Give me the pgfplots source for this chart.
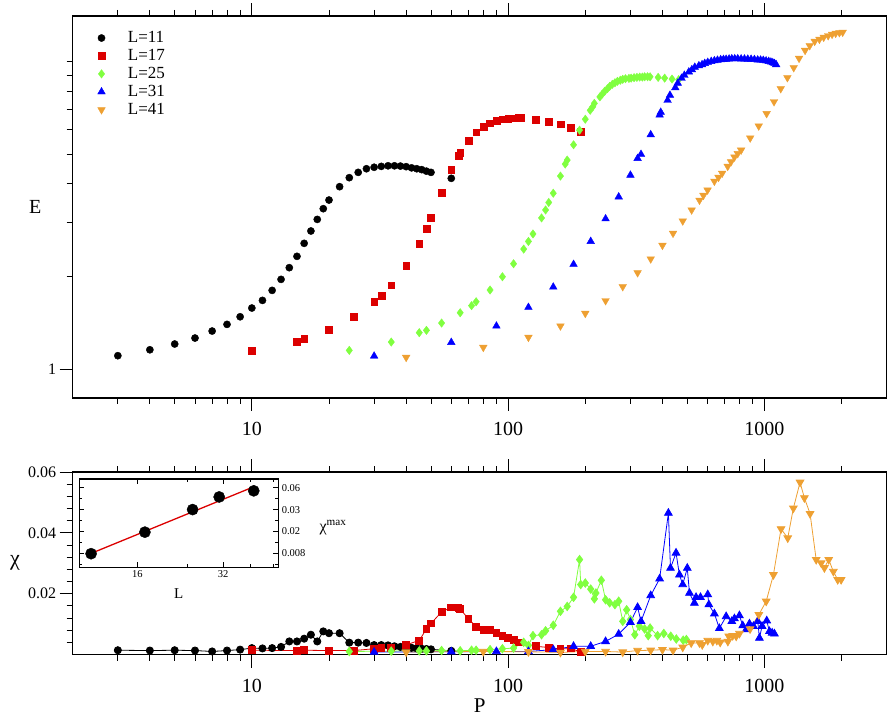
\documentclass[border=0pt]{standalone}
\usepackage{fontspec}
\setmainfont{Liberation Serif}
\usepackage{pgfplots}
\pgfplotsset{compat=1.18}

\definecolor{cred}{RGB}{220,0,0}
\definecolor{cgreen}{RGB}{128,255,64}
\definecolor{cblue}{RGB}{0,0,255}
\definecolor{corange}{RGB}{238,160,50}

\pgfplotsset{
  s11/.style={black, mark=*, mark size=3.6pt},
  s17/.style={cred, mark=square*, mark size=3.4pt},
  s25/.style={cgreen, mark=diamond*, mark size=4.2pt},
  s31/.style={cblue, mark=triangle*, mark size=4.4pt},
  s41/.style={corange, mark=triangle*, mark size=4.4pt, mark options={rotate=180}},
  % legend image: one mark, with room to the text as in the reference
  limg/.style={legend image code/.code={%
    \draw[#1] plot coordinates {(0.55cm,0cm)}; \path (0cm,0cm) (1.4cm,0cm);}},
}

\begin{document}
\begin{tikzpicture}[x=1pt,y=1pt]
\useasboundingbox (0,0) rectangle (888,715);

% ---- upper panel: E versus P
\begin{axis}[
  scale only axis, width=814pt, height=382pt,
  at={(72.7pt,317pt)}, anchor=south west,
  xmode=log, xmin=2, xmax=3000,
  ymode=log, ymin=0.805, ymax=14.06,
  axis line style={line width=1.4pt},
  every tick/.style={black, line width=0.9pt},
  tick align=outside,
  major tick length=13pt, minor tick length=6pt,
  xtick={10,100,1000}, xticklabels={10,100,1000},
  minor xtick={3,4,5,6,7,8,9,20,30,40,50,60,70,80,90,200,300,400,500,600,700,800,900,2000},
  xtick pos=both, xticklabel pos=lower, ytick pos=left,
  xticklabel style={font=\fontsize{20}{24}\selectfont, yshift=-8pt},
  yticklabel style={font=\fontsize{16}{19}\selectfont},
  ytick={1}, yticklabels={1},
  minor ytick={2,3,4,5,6,7,8,9,10},
  ylabel={E},
  every axis y label/.style={at={(axis description cs:-0.046,0.5)}, anchor=center,
    font=\fontsize{20}{24}\selectfont},
  legend style={draw=none, fill=none, at={(axis description cs:0.012,0.97)},
    anchor=north west, font=\fontsize{17}{19}\selectfont, row sep=1.2pt},
  legend cell align=left,
]
\addplot[s11, only marks, limg] coordinates {
 (3,1.105) (4,1.155) (5,1.206) (6,1.261) (7,1.329) (8,1.397) (9,1.479) (10,1.579)
 (11,1.672) (12,1.802) (13,1.957) (14,2.136) (15,2.325) (16,2.563) (17,2.811)
 (18,3.066) (19,3.322) (20,3.544) (22,3.917) (24,4.19) (26,4.36) (28,4.48)
 (30,4.53) (32,4.56) (34,4.58) (36,4.58) (38,4.57) (40,4.55) (42,4.51) (44,4.48)
 (46,4.45) (48,4.40) (50,4.36) (60,4.17)};
\addlegendentry{L=11}
\addplot[s17, only marks, limg] coordinates {
 (10,1.147) (15,1.227) (16,1.252) (20,1.346) (25,1.479) (30,1.651) (32,1.732)
 (35,1.872) (40,2.163) (45,2.556) (48,2.852) (50,3.097) (55,3.745) (60,4.45)
 (64,4.94) (65,5.05) (70,5.54) (75,5.89) (80,6.12) (85,6.30) (90,6.42) (95,6.49)
 (100,6.52) (105,6.54) (110,6.55) (112,6.55) (128,6.47) (144,6.37) (160,6.25)
 (176,6.11) (192,5.93)};
\addlegendentry{L=17}
\addplot[s25, only marks, limg] coordinates {
 (24,1.150) (35,1.224) (45,1.313) (48,1.336) (55,1.411) (65,1.524) (72,1.607)
 (75,1.655) (85,1.807) (95,1.996) (105,2.20) (115,2.455) (120,2.60) (125,2.75)
 (135,3.10) (140,3.29) (144,3.48) (150,3.73) (160,4.24) (167,4.64) (170,4.78)
 (180,5.36) (190,5.98) (200,6.49) (209,6.94) (214,7.13) (217,7.31) (228,7.67)
 (233,7.84) (238,8.00) (244,8.16) (249,8.30) (255,8.43) (261,8.53) (267,8.62)
 (274,8.69) (280,8.75) (287,8.79) (296,8.81) (302,8.83) (310,8.86) (318,8.88)
 (326,8.90) (334,8.90) (341,8.92) (350,8.92) (358,8.92) (385,8.88) (408,8.83)
 (436,8.77) (463,8.73)};
\addlegendentry{L=25}
\addplot[s31, only marks, limg] coordinates {
 (30,1.102) (60,1.221) (90,1.38) (120,1.587) (150,1.848) (180,2.19) (210,2.60)
 (240,3.08) (270,3.63) (300,4.27) (320,4.84) (330,4.99) (360,5.78) (390,6.70)
 (394,6.84) (419,7.48) (428,7.77) (449,8.22) (459,8.50) (475,8.82) (487,9.02)
 (507,9.25) (521,9.41) (535,9.58) (555,9.69) (571,9.77) (585,9.86) (601,9.94)
 (620,10.01) (638,10.06) (656,10.10) (675,10.14) (692,10.16) (709,10.17)
 (728,10.19) (746,10.21) (766,10.21) (787,10.21) (811,10.20) (836,10.19)
 (861,10.18) (887,10.17) (914,10.15) (941,10.12) (966,10.11) (990,10.09)
 (1015,10.05) (1039,10.01) (1060,9.96) (1078,9.91) (1095,9.85) (1111,9.77)};
\addlegendentry{L=31}
\addplot[s41, only marks, limg] coordinates {
 (40,1.091) (80,1.176) (120,1.268) (160,1.38) (200,1.517) (240,1.668) (280,1.853)
 (320,2.056) (360,2.28) (400,2.525) (440,2.763) (480,3.03) (520,3.29) (558,3.54)
 (578,3.67) (600,3.82) (638,4.08) (662,4.20) (684,4.33) (719,4.56) (741,4.72)
 (764,4.89) (787,5.02) (811,5.15) (880,5.64) (950,6.17) (1020,6.77) (1090,7.40)
 (1158,8.16) (1229,8.86) (1301,9.55) (1365,10.24) (1441,10.87) (1502,11.26)
 (1571,11.63) (1639,11.81) (1703,11.99) (1773,12.13) (1837,12.26) (1897,12.35)
 (1961,12.41) (2020,12.45)};
\addlegendentry{L=41}
\end{axis}

% ---- lower panel: chi versus P
\begin{axis}[
  scale only axis, width=814pt, height=182.5pt,
  at={(72.7pt,60.5pt)}, anchor=south west,
  xmode=log, xmin=2, xmax=3000,
  ymin=0, ymax=0.06, scaled y ticks=false,
  axis line style={line width=1.4pt},
  every tick/.style={black, line width=0.9pt},
  tick align=outside,
  major tick length=13pt, minor tick length=6pt,
  xtick={10,100,1000}, xticklabels={10,100,1000},
  minor xtick={3,4,5,6,7,8,9,20,30,40,50,60,70,80,90,200,300,400,500,600,700,800,900,2000},
  xtick pos=both, xticklabel pos=lower, ytick pos=left,
  xticklabel style={font=\fontsize{20}{24}\selectfont, yshift=-8pt},
  yticklabel style={font=\fontsize{16}{19}\selectfont},
  ytick={0.02,0.04,0.06}, yticklabels={0.02,0.04,0.06},
  minor ytick={0.004,0.008,0.012,0.016,0.024,0.028,0.032,0.036,0.044,0.048,0.052,0.056},
  ylabel={χ}, xlabel={P},
  every axis y label/.style={at={(axis description cs:-0.071,0.5)}, anchor=center,
    font=\fontsize{22}{26}\selectfont},
  every axis x label/.style={at={(axis description cs:0.5,-0.278)}, anchor=center,
    font=\fontsize{21}{25}\selectfont},
  every axis plot/.append style={line width=0.8pt},
]
\addplot[s11] coordinates {
 (3,0.0014) (4,0.0013) (5,0.0014) (6,0.0013) (7,0.0010) (8,0.0013) (9,0.0016)
 (10,0.0021) (11,0.0020) (12,0.0021) (13,0.0025) (14,0.0043) (15,0.0043)
 (16,0.0052) (17,0.0065) (18,0.0043) (19,0.0076) (20,0.0070) (22,0.0070)
 (24,0.0039) (26,0.0039) (28,0.0038) (30,0.0031) (32,0.0031) (34,0.0030)
 (36,0.0027) (38,0.0025) (40,0.0024) (42,0.0022) (44,0.0020) (46,0.0019)
 (48,0.0018) (50,0.0017) (60,0.0012)};
\addplot[s17] coordinates {
 (10,0.0014) (15,0.0013) (16,0.0014) (20,0.0013) (25,0.0013) (30,0.0019)
 (32,0.0021) (35,0.0021) (40,0.0032) (45,0.0046) (48,0.0084) (50,0.0102)
 (55,0.0140) (60,0.0155) (64,0.0152) (65,0.0150) (70,0.0117) (75,0.0092)
 (80,0.0082) (85,0.0082) (90,0.0071) (95,0.0062) (100,0.0054) (105,0.0049)
 (110,0.0040) (128,0.0027) (144,0.0023) (160,0.0018) (176,0.0020) (192,0.0008)};
\addplot[s25] coordinates {
 (24,0.0010) (35,0.0011) (45,0.0012) (48,0.0012) (55,0.0013) (65,0.0012)
 (72,0.0014) (75,0.0014) (85,0.0016) (95,0.0019) (105,0.0021) (115,0.0040)
 (120,0.0030) (125,0.0062) (135,0.0065) (140,0.0078) (150,0.0096) (160,0.0142)
 (170,0.0158) (180,0.0188) (190,0.0312) (192,0.0230) (200,0.0235) (210,0.0215)
 (217,0.0183) (220,0.0202) (231,0.0244) (240,0.0180) (249,0.0170) (261,0.0164)
 (270,0.0175) (280,0.0109) (290,0.0147) (300,0.0115) (312,0.0065) (325,0.0093)
 (341,0.0084) (352,0.0062) (358,0.0087) (383,0.0062) (405,0.0069) (431,0.0060)
 (453,0.0051) (482,0.0047) (496,0.0049)};
\addplot[s31] coordinates {
 (30,0.0008) (60,0.0009) (90,0.0010) (120,0.0010) (150,0.0016) (180,0.0027)
 (210,0.0027) (240,0.0043) (270,0.0067) (300,0.0106) (320,0.0155) (330,0.0109)
 (360,0.0194) (390,0.0249) (422,0.0465) (430,0.0284) (452,0.0334) (466,0.0262)
 (480,0.0230) (500,0.0284) (510,0.0202) (533,0.0169) (541,0.0188) (563,0.0188)
 (601,0.0197) (607,0.0164) (638,0.0134) (667,0.0086) (709,0.0125) (746,0.0109)
 (764,0.0118) (799,0.0128) (823,0.0095) (849,0.0082) (874,0.0101) (906,0.0093)
 (942,0.0109) (956,0.0054) (979,0.0093) (1021,0.0111) (1046,0.0076)
 (1072,0.0071) (1094,0.0068)};
\addplot[s41] coordinates {
 (40,0.0008) (80,0.0010) (120,0.0009) (160,0.0007) (200,0.0010) (240,0.0010)
 (280,0.0008) (320,0.0013) (360,0.0014) (400,0.0016) (440,0.0014) (480,0.0024)
 (518,0.0038) (558,0.0038) (572,0.0032) (601,0.0046) (629,0.0043) (652,0.0046)
 (672,0.0040) (720,0.0043) (726,0.0060) (752,0.0062) (776,0.0060) (799,0.0069)
 (879,0.0084) (951,0.0131) (1016,0.0175) (1084,0.0262) (1161,0.0413)
 (1233,0.0383) (1297,0.0481) (1377,0.0566) (1432,0.0515) (1507,0.0463)
 (1592,0.0312) (1665,0.0301) (1714,0.0285) (1782,0.0312) (1858,0.0273)
 (1932,0.0246) (1992,0.0246)};
\end{axis}

% ---- inset: chi max versus L
\begin{axis}[
  at={(79.3pt,147.7pt)}, anchor=south west,
  scale only axis, width=199pt, height=88.3pt,
  axis background/.style={fill=white},
  xmode=log, ymode=log,
  xmin=10, xmax=50, ymin=0.00502, ymax=0.0825,
  axis line style={line width=1.3pt},
  every tick/.style={black, line width=0.8pt},
  tick align=inside, major tick length=5pt, minor tick length=3pt,
  xtick={16,32}, xticklabels={16,32}, minor xtick={24,40,48},
  ytick={0.0078125,0.015625,0.03125,0.0625},
  yticklabels={0.008,0.02,0.03,0.06},
  minor ytick={0.005524,0.011049,0.022097,0.044194},
  xtick pos=both, ytick pos=both, xticklabel pos=lower, yticklabel pos=right,
  ticklabel style={font=\fontsize{10.5}{12}\selectfont},
  xlabel={L}, ylabel={χ\textsuperscript{max}},
  every axis x label/.style={at={(axis description cs:0.5,-0.3)}, anchor=center,
    font=\fontsize{15}{18}\selectfont},
  every axis y label/.style={at={(axis description cs:1.275,0.45)}, anchor=center,
    font=\fontsize{16}{19}\selectfont},
]
\addplot[cred, line width=1.3pt] coordinates {(11,0.0078) (41,0.0645)};
\addplot[black, only marks, mark=*, mark size=5.6pt] coordinates {
 (11,0.00773) (17,0.0153) (25,0.0313) (31,0.0467) (41,0.0567)};
\end{axis}
\end{tikzpicture}
\end{document}
